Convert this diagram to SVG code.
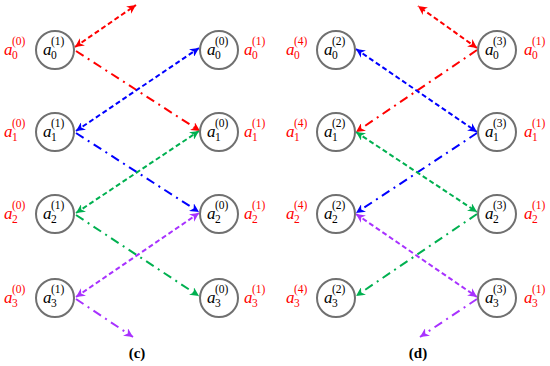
<svg xmlns="http://www.w3.org/2000/svg" width="550" height="366" viewBox="0 0 550 366">
<style>
.n circle{fill:#fff;stroke:#707070;stroke-width:2}
text{font-family:"Liberation Serif","DejaVu Serif",serif}
.a{font-style:italic;font-size:17px}
.s{font-size:11.5px}
.r{fill:#ff0000}
.k{fill:#000}
.cap{font-size:15px;font-weight:bold}
.e line{fill:none;stroke-width:2}
.d{stroke-dasharray:5,3}
.dd{stroke-dasharray:9,5,2,5}
</style>
<defs>
<marker id="mr" viewBox="0 0 10 10" refX="10" refY="5" markerWidth="9" markerHeight="9" markerUnits="userSpaceOnUse" orient="auto-start-reverse"><path d="M0,0 L10,5 L0,10 L3,5 z" fill="#ff0000"/></marker>
<marker id="mb" viewBox="0 0 10 10" refX="10" refY="5" markerWidth="9" markerHeight="9" markerUnits="userSpaceOnUse" orient="auto-start-reverse"><path d="M0,0 L10,5 L0,10 L3,5 z" fill="#0000ff"/></marker>
<marker id="mg" viewBox="0 0 10 10" refX="10" refY="5" markerWidth="9" markerHeight="9" markerUnits="userSpaceOnUse" orient="auto-start-reverse"><path d="M0,0 L10,5 L0,10 L3,5 z" fill="#00b050"/></marker>
<marker id="mp" viewBox="0 0 10 10" refX="10" refY="5" markerWidth="9" markerHeight="9" markerUnits="userSpaceOnUse" orient="auto-start-reverse"><path d="M0,0 L10,5 L0,10 L3,5 z" fill="#a832ff"/></marker>
</defs>

<g id="edges" class="e">
<!-- panel c -->
<line class="d" x1="75" y1="47" x2="136" y2="5" stroke="#ff0000" marker-start="url(#mr)" marker-end="url(#mr)"/>
<line class="dd" x1="76" y1="51" x2="200" y2="131" stroke="#ff0000" marker-end="url(#mr)"/>
<line class="d" x1="76" y1="131" x2="199" y2="48" stroke="#0000ff" marker-start="url(#mb)" marker-end="url(#mb)"/>
<line class="dd" x1="76" y1="133" x2="199" y2="212" stroke="#0000ff" marker-end="url(#mb)"/>
<line class="d" x1="76" y1="213" x2="199" y2="131" stroke="#00b050" marker-start="url(#mg)" marker-end="url(#mg)"/>
<line class="dd" x1="76" y1="215" x2="199" y2="296" stroke="#00b050" marker-end="url(#mg)"/>
<line class="d" x1="76" y1="297" x2="199" y2="213" stroke="#a832ff" marker-start="url(#mp)" marker-end="url(#mp)"/>
<line class="dd" x1="76" y1="299" x2="133" y2="337" stroke="#a832ff" marker-end="url(#mp)"/>
<!-- panel d -->
<line class="d" x1="477" y1="48" x2="418" y2="6" stroke="#ff0000" marker-start="url(#mr)" marker-end="url(#mr)"/>
<line class="dd" x1="477" y1="50" x2="356" y2="132" stroke="#ff0000" marker-end="url(#mr)"/>
<line class="d" x1="356" y1="49" x2="477" y2="132" stroke="#0000ff" marker-start="url(#mb)" marker-end="url(#mb)"/>
<line class="dd" x1="477" y1="133" x2="356" y2="213" stroke="#0000ff" marker-end="url(#mb)"/>
<line class="d" x1="356" y1="132" x2="477" y2="212" stroke="#00b050" marker-start="url(#mg)" marker-end="url(#mg)"/>
<line class="dd" x1="477" y1="214" x2="356" y2="296" stroke="#00b050" marker-end="url(#mg)"/>
<line class="d" x1="356" y1="214" x2="477" y2="297" stroke="#a832ff" marker-start="url(#mp)" marker-end="url(#mp)"/>
<line class="dd" x1="477" y1="299" x2="420" y2="337" stroke="#a832ff" marker-end="url(#mp)"/>
</g>

<!-- panel c left nodes -->
<g id="c-l0" class="n"><circle cx="55" cy="50" r="19"/><text class="a k" x="43" y="55">a</text><text class="s k" x="51" y="45">(1)</text><text class="s k" x="51" y="59">0</text>
<text class="a r" x="4" y="55">a</text><text class="s r" x="12" y="45">(0)</text><text class="s r" x="12" y="59">0</text></g>
<g id="c-l1" class="n"><circle cx="55" cy="132" r="19"/><text class="a k" x="43" y="137">a</text><text class="s k" x="51" y="127">(1)</text><text class="s k" x="51" y="141">1</text>
<text class="a r" x="4" y="137">a</text><text class="s r" x="12" y="127">(0)</text><text class="s r" x="12" y="141">1</text></g>
<g id="c-l2" class="n"><circle cx="55" cy="214" r="19"/><text class="a k" x="43" y="219">a</text><text class="s k" x="51" y="209">(1)</text><text class="s k" x="51" y="223">2</text>
<text class="a r" x="4" y="219">a</text><text class="s r" x="12" y="209">(0)</text><text class="s r" x="12" y="223">2</text></g>
<g id="c-l3" class="n"><circle cx="55" cy="298" r="19"/><text class="a k" x="43" y="303">a</text><text class="s k" x="51" y="293">(1)</text><text class="s k" x="51" y="307">3</text>
<text class="a r" x="4" y="303">a</text><text class="s r" x="12" y="293">(0)</text><text class="s r" x="12" y="307">3</text></g>
<!-- panel c right nodes -->
<g id="c-r0" class="n"><circle cx="219" cy="50" r="19"/><text class="a k" x="207" y="55">a</text><text class="s k" x="215" y="45">(0)</text><text class="s k" x="215" y="59">0</text>
<text class="a r" x="244" y="55">a</text><text class="s r" x="252" y="45">(1)</text><text class="s r" x="252" y="59">0</text></g>
<g id="c-r1" class="n"><circle cx="219" cy="132" r="19"/><text class="a k" x="207" y="137">a</text><text class="s k" x="215" y="127">(0)</text><text class="s k" x="215" y="141">1</text>
<text class="a r" x="244" y="137">a</text><text class="s r" x="252" y="127">(1)</text><text class="s r" x="252" y="141">1</text></g>
<g id="c-r2" class="n"><circle cx="219" cy="214" r="19"/><text class="a k" x="207" y="219">a</text><text class="s k" x="215" y="209">(0)</text><text class="s k" x="215" y="223">2</text>
<text class="a r" x="244" y="219">a</text><text class="s r" x="252" y="209">(1)</text><text class="s r" x="252" y="223">2</text></g>
<g id="c-r3" class="n"><circle cx="219" cy="298" r="19"/><text class="a k" x="207" y="303">a</text><text class="s k" x="215" y="293">(0)</text><text class="s k" x="215" y="307">3</text>
<text class="a r" x="244" y="303">a</text><text class="s r" x="252" y="293">(1)</text><text class="s r" x="252" y="307">3</text></g>
<!-- panel d left nodes -->
<g id="d-l0" class="n"><circle cx="336" cy="50" r="19"/><text class="a k" x="324" y="55">a</text><text class="s k" x="332" y="45">(2)</text><text class="s k" x="332" y="59">0</text>
<text class="a r" x="286" y="55">a</text><text class="s r" x="294" y="45">(4)</text><text class="s r" x="294" y="59">0</text></g>
<g id="d-l1" class="n"><circle cx="336" cy="132" r="19"/><text class="a k" x="324" y="137">a</text><text class="s k" x="332" y="127">(2)</text><text class="s k" x="332" y="141">1</text>
<text class="a r" x="286" y="137">a</text><text class="s r" x="294" y="127">(4)</text><text class="s r" x="294" y="141">1</text></g>
<g id="d-l2" class="n"><circle cx="336" cy="214" r="19"/><text class="a k" x="324" y="219">a</text><text class="s k" x="332" y="209">(2)</text><text class="s k" x="332" y="223">2</text>
<text class="a r" x="286" y="219">a</text><text class="s r" x="294" y="209">(4)</text><text class="s r" x="294" y="223">2</text></g>
<g id="d-l3" class="n"><circle cx="336" cy="298" r="19"/><text class="a k" x="324" y="303">a</text><text class="s k" x="332" y="293">(2)</text><text class="s k" x="332" y="307">3</text>
<text class="a r" x="286" y="303">a</text><text class="s r" x="294" y="293">(4)</text><text class="s r" x="294" y="307">3</text></g>
<!-- panel d right nodes -->
<g id="d-r0" class="n"><circle cx="497" cy="50" r="19"/><text class="a k" x="485" y="55">a</text><text class="s k" x="493" y="45">(3)</text><text class="s k" x="493" y="59">0</text>
<text class="a r" x="524" y="55">a</text><text class="s r" x="532" y="45">(1)</text><text class="s r" x="532" y="59">0</text></g>
<g id="d-r1" class="n"><circle cx="497" cy="132" r="19"/><text class="a k" x="485" y="137">a</text><text class="s k" x="493" y="127">(3)</text><text class="s k" x="493" y="141">1</text>
<text class="a r" x="524" y="137">a</text><text class="s r" x="532" y="127">(1)</text><text class="s r" x="532" y="141">1</text></g>
<g id="d-r2" class="n"><circle cx="497" cy="214" r="19"/><text class="a k" x="485" y="219">a</text><text class="s k" x="493" y="209">(3)</text><text class="s k" x="493" y="223">2</text>
<text class="a r" x="524" y="219">a</text><text class="s r" x="532" y="209">(1)</text><text class="s r" x="532" y="223">2</text></g>
<g id="d-r3" class="n"><circle cx="497" cy="298" r="19"/><text class="a k" x="485" y="303">a</text><text class="s k" x="493" y="293">(3)</text><text class="s k" x="493" y="307">3</text>
<text class="a r" x="524" y="303">a</text><text class="s r" x="532" y="293">(1)</text><text class="s r" x="532" y="307">3</text></g>

<text class="cap" x="137" y="358" text-anchor="middle">(c)</text>
<text class="cap" x="418" y="358" text-anchor="middle">(d)</text>
</svg>
